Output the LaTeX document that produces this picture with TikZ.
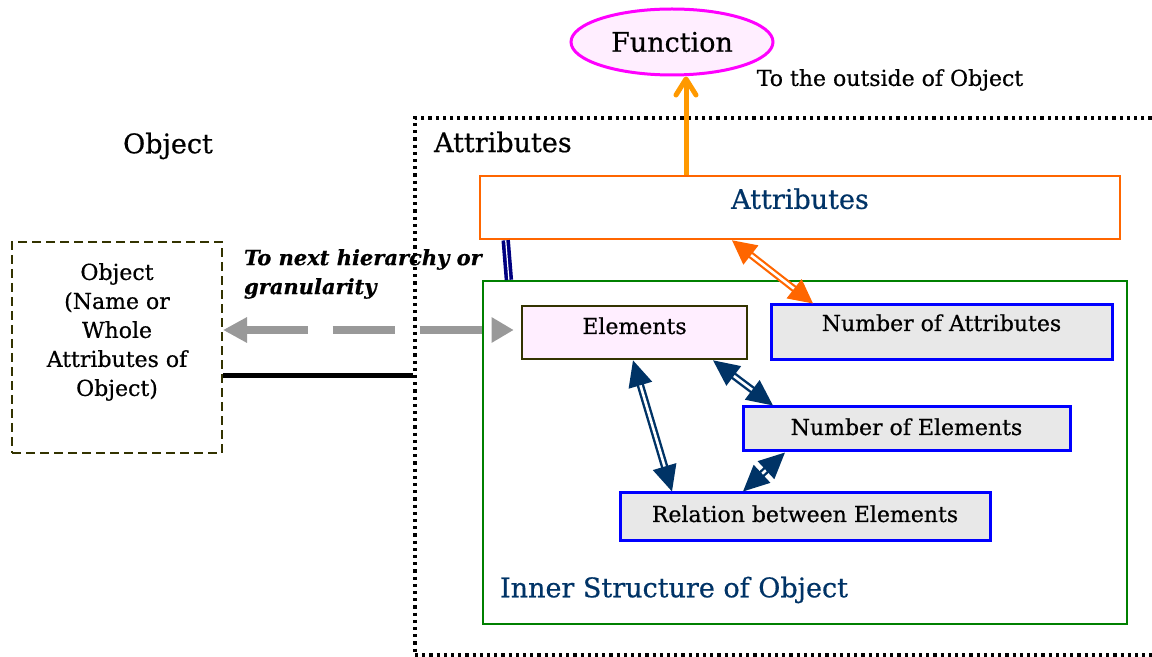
\documentclass[tikz,border=0pt]{standalone}
\usepackage{fontspec}
\setmainfont{DejaVu Serif}[FakeBold=0.6]
\usetikzlibrary{arrows.meta,shapes.geometric}
\definecolor{titleblue}{HTML}{003366}
\definecolor{arrownavy}{HTML}{003366}
\definecolor{barnavy}{HTML}{000080}
\definecolor{attrorange}{HTML}{FF6600}
\definecolor{funcorange}{HTML}{FF9900}
\definecolor{funcmagenta}{HTML}{FF00FF}
\definecolor{pinkfill}{HTML}{FFEEFF}
\definecolor{boxgray}{HTML}{E8E8E8}
\definecolor{boxolive}{HTML}{333300}
\definecolor{innergreen}{HTML}{008000}
\definecolor{arrowgray}{HTML}{999999}
\newcommand\bigtxt{\fontsize{13.5}{16}\selectfont}
\begin{document}
\begin{tikzpicture}[x=0.5pt,y=-0.5pt,font=\fontsize{11}{14.5}\selectfont,
    partbox/.style={draw=blue,line width=1.5pt,fill=boxgray,text height=8pt},
    navyarrow/.style={draw=arrownavy,double=white,line width=1.2pt,double distance=1.3pt,
        {Triangle[length=13pt,width=12pt]}-{Triangle[length=13pt,width=12pt]}},
    orangeduo/.style={draw=attrorange,double=white,line width=1.1pt,double distance=1.3pt,
        {Triangle[length=12pt,width=12pt]}-{Triangle[length=12pt,width=12pt]}}]
    \useasboundingbox (0,0) rectangle (1152,657);
    % outer frame and titles
    \node[draw,line width=1.6pt,dash pattern=on 1.6pt off 2pt,minimum width=377.5pt,minimum height=268.5pt] (outer) at (792.5,386.5) {};
    \node[anchor=west,font=\bigtxt] (attrlabel) at (427,142) {Attributes};
    \node[font=\bigtxt] (objlabel) at (168,146) {Object};
    \node[draw=funcmagenta,line width=1.5pt,fill=pinkfill,ellipse,minimum width=101pt,minimum height=33pt,font=\bigtxt] (func) at (672,42) {Function};
    \node (outside) at (890,80) {To the outside of Object};
    \node[draw=attrorange,line width=1.3pt,fill=white,minimum width=320pt,minimum height=31.5pt,text=titleblue,font=\bigtxt,text height=10pt,text depth=8.7pt] (attr) at (800,207.5) {Attributes};
    % inner structure
    \node[draw=innergreen,line width=1.1pt,minimum width=322pt,minimum height=171.5pt] (inner) at (805,452.5) {};
    \node[anchor=west,text=titleblue,font=\bigtxt] (innerlabel) at (493,590) {Inner Structure of Object};
    \node[draw=boxolive,line width=1.3pt,fill=pinkfill,minimum width=112.5pt,minimum height=26.5pt,text height=8pt,text depth=6.5pt] (elem) at (634.5,332.5) {Elements};
    \node[partbox,minimum width=170.5pt,minimum height=27.5pt,text depth=9.5pt] (numattr) at (941.5,332.5) {Number of Attributes};
    \node[partbox,minimum width=163.5pt,minimum height=22pt,text depth=2pt] (numel) at (906.5,429) {Number of Elements};
    \node[partbox,minimum width=185pt,minimum height=24pt,text depth=3pt] (rel) at (805,517) {Relation between Elements};
    % object on the left
    \node[draw=boxolive,line width=1pt,dash pattern=on 4.5pt off 2.5pt,minimum width=105pt,minimum height=105.5pt] (objbox) at (117,347.5) {};
    \node[align=center] (objtext) at (117,332) {Object\\(Name or\\Whole\\Attributes of\\Object)};
    \node[anchor=west,align=left,font=\fontsize{10.5}{14.5}\selectfont\bfseries\itshape] (nextlabel) at (237,274) {To next hierarchy or\\granularity};
    % connectors
    \draw[funcorange,line width=2.5pt,-{Straight Barb[length=8pt,width=10pt,round]}] (attr.north -| 686,0) -- (func.south -| 686,0);
    \draw[barnavy,double=white,line width=1.8pt,double distance=0.6pt] ([xshift=13.5pt]attr.south west) -- ([xshift=13.5pt]inner.north west);
    \draw[orangeduo] (attr.south -| 732,0) -- (numattr.north -| 813,0);
    \draw[navyarrow] (elem.south -| 633,0) -- (rel.north -| 672,0);
    \draw[navyarrow] (elem.south -| 713,0) -- (numel.north -| 773,0);
    \draw[navyarrow] (numel.south -| 785,0) -- (rel.north -| 743,0);
    \draw[arrowgray,line width=4pt,dash pattern=on 31pt off 12.5pt,shorten >=3.5pt,
        {Triangle[length=12pt,width=12pt]}-{Triangle[length=11pt,width=12pt]}] (objbox.east |- 0,330) -- (elem.west |- 0,330);
    \draw[line width=2.5pt] (objbox.east |- 0,376) -- (outer.west |- 0,376);
\end{tikzpicture}
\end{document}
